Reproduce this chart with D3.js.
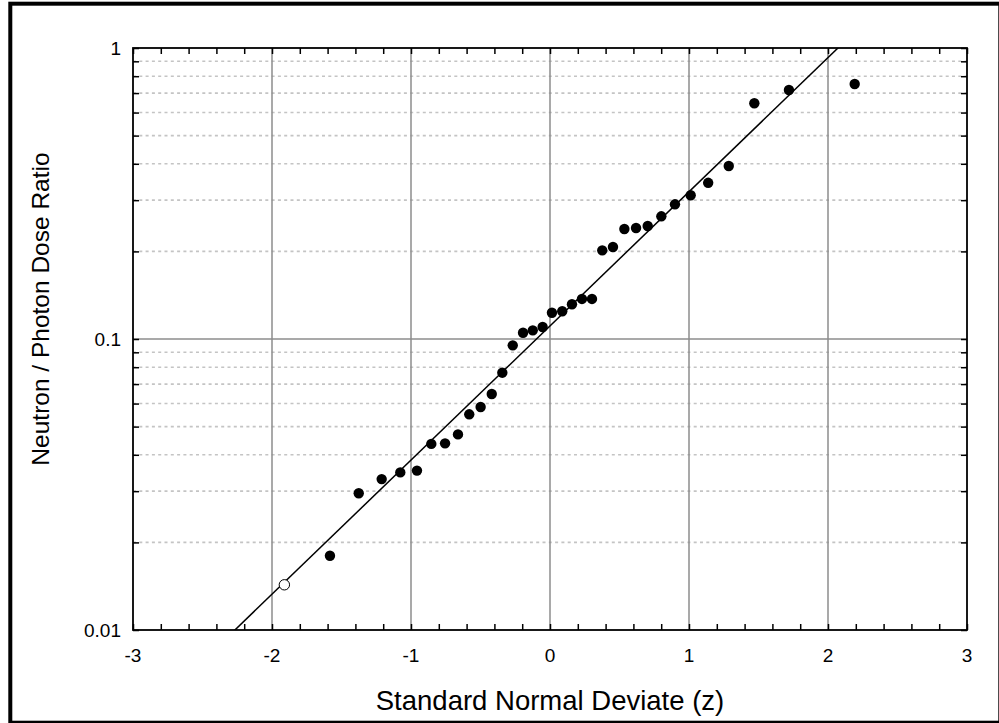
<!DOCTYPE html>
<html>
<head>
<meta charset="utf-8">
<script src="https://cdn.jsdelivr.net/npm/d3@7"></script>
<style>
  body { margin: 0; background: #fff; }
  svg { display: block; }
  .lbl { font-family: "Liberation Sans", Arial, sans-serif; font-size: 19px; fill: black; }
  .ttl { font-family: "Liberation Sans", Arial, sans-serif; fill: black; }
</style>
</head>
<body>
<svg id="probSVG" width="999" height="723"></svg>
<script>
// observed points: standard normal deviate vs neutron/photon dose ratio
const zValues = [-1.583, -1.376, -1.211, -1.077, -0.957, -0.854, -0.755, -0.662, -0.581, -0.499,
                 -0.419, -0.343, -0.268, -0.194, -0.124, -0.053, 0.014, 0.088, 0.158, 0.230,
                 0.302, 0.376, 0.453, 0.535, 0.619, 0.703, 0.801, 0.899, 1.012, 1.138,
                 1.286, 1.470, 1.719, 2.192];
const ratioValues = [0.0180, 0.0295, 0.0330, 0.0348, 0.0353, 0.0436, 0.0438, 0.0470, 0.0551, 0.0584,
                     0.0647, 0.0766, 0.0951, 0.1051, 0.1071, 0.1100, 0.1231, 0.1246, 0.1316, 0.1373,
                     0.1373, 0.2017, 0.2071, 0.2388, 0.2407, 0.2445, 0.2640, 0.2903, 0.3118, 0.3441,
                     0.3930, 0.6456, 0.7171, 0.7519];
// open (non-detect) point
const openZ = [-1.911];
const openRatio = [0.0143];

// fitted line: log10(ratio) = fitIntercept + fitSlope * z
const fitIntercept = -0.955;
const fitSlope = 0.461;

const xMajor = [-3, -2, -1, 0, 1, 2, 3];
const xMajorLabels = ["-3", "-2", "-1", "0", "1", "2", "3"];
const yMajor = [0.01, 0.1, 1];
const yMajorLabels = ["0.01", "0.1", "1"];

const xTitle = "Standard Normal Deviate (z)";
const yTitle = "Neutron / Photon Dose Ratio";

const svg = d3.select('#probSVG');
const margin = {top: 48, right: 32, bottom: 93, left: 133};
const innerWidth = 999 - margin.left - margin.right;
const innerHeight = 723 - margin.top - margin.bottom;

// outer frame
svg.append('rect')
    .attr("x", 10.3).attr("y", 3.7)
    .attr("width", 990).attr("height", 719)
    .attr("fill", "none")
    .attr("stroke", "black")
    .attr("stroke-width", 4);

const g = svg.append('g').attr('transform', `translate(${margin.left}, ${margin.top})`);

const xScale = d3.scaleLinear().domain([-3, 3]).range([0, innerWidth]);
const yScale = d3.scaleLog().domain([0.01, 1]).range([innerHeight, 0]);

const xMinor = d3.range(-30, 31, 2).map(d => d / 10).filter(d => !xMajor.includes(d));
const yMinor = [];
[0.01, 0.1].forEach(dec => {
    for (let k = 2; k <= 9; k++) yMinor.push(dec * k);
});

// minor y grid (dotted)
g.selectAll('.minorGrid')
    .data(yMinor)
    .enter()
    .append('line')
    .classed('minorGrid', true)
    .attr("x1", 0).attr("x2", innerWidth)
    .attr("y1", d => yScale(d)).attr("y2", d => yScale(d))
    .attr("stroke", "#c4c4c4")
    .attr("stroke-width", 1.6)
    .attr("stroke-dasharray", "3,3.3");

// major grid
g.selectAll('.xGrid')
    .data(xMajor.slice(1, -1))
    .enter()
    .append('line')
    .classed('xGrid', true)
    .attr("x1", d => xScale(d)).attr("x2", d => xScale(d))
    .attr("y1", 0).attr("y2", innerHeight)
    .attr("stroke", "#8c8c8c")
    .attr("stroke-width", 1.5);
g.selectAll('.yGrid')
    .data(yMajor.slice(1, -1))
    .enter()
    .append('line')
    .classed('yGrid', true)
    .attr("x1", 0).attr("x2", innerWidth)
    .attr("y1", d => yScale(d)).attr("y2", d => yScale(d))
    .attr("stroke", "#8c8c8c")
    .attr("stroke-width", 1.5);

// axes: inward ticks on all four sides, labels drawn separately
function styleAxis(sel) {
    sel.select('.domain').remove();
    sel.selectAll('text').remove();
    sel.selectAll('line').attr("stroke", "black").attr("stroke-width", 1.5);
}
const allX = xMinor.concat(xMajor);
const allY = yMinor.concat(yMajor);

g.append('g').attr('transform', `translate(0, ${innerHeight})`)
    .call(d3.axisBottom(xScale).tickValues(allX).tickSize(-6))
    .call(styleAxis);
g.append('g')
    .call(d3.axisTop(xScale).tickValues(allX).tickSize(-6))
    .call(styleAxis);
g.append('g')
    .call(d3.axisLeft(yScale).tickValues(allY).tickSize(-6))
    .call(styleAxis);
g.append('g').attr('transform', `translate(${innerWidth}, 0)`)
    .call(d3.axisRight(yScale).tickValues(allY).tickSize(-6))
    .call(styleAxis);

// tick labels
g.selectAll('.xLabel')
    .data(xMajor)
    .enter()
    .append('text')
    .attr("class", "lbl xLabel")
    .attr("x", d => xScale(d))
    .attr("y", innerHeight + 32)
    .attr("text-anchor", "middle")
    .text((d, i) => xMajorLabels[i]);
g.selectAll('.yLabel')
    .data(yMajor)
    .enter()
    .append('text')
    .attr("class", "lbl yLabel")
    .attr("x", -12)
    .attr("y", d => yScale(d))
    .attr("dy", "0.36em")
    .attr("text-anchor", "end")
    .text((d, i) => yMajorLabels[i]);

// clip for fit line
svg.append('defs').append('clipPath').attr('id', 'plotClip')
    .append('rect').attr('width', innerWidth).attr('height', innerHeight);

const fitLine = d3.line()
    .x(d => xScale(d))
    .y(d => yScale(Math.pow(10, fitIntercept + fitSlope * d)));
g.append('path')
    .datum([-3, 3])
    .attr("clip-path", "url(#plotClip)")
    .attr("d", fitLine)
    .attr("fill", "none")
    .attr("stroke", "black")
    .attr("stroke-width", 1.5);

// points
g.selectAll('.pt')
    .data(zValues.map((z, i) => [z, ratioValues[i]]))
    .enter()
    .append('circle')
    .classed('pt', true)
    .attr("cx", d => xScale(d[0]))
    .attr("cy", d => yScale(d[1]))
    .attr("r", 5.2)
    .attr("fill", "black");
g.selectAll('.openPt')
    .data(openZ.map((z, i) => [z, openRatio[i]]))
    .enter()
    .append('circle')
    .classed('openPt', true)
    .attr("cx", d => xScale(d[0]))
    .attr("cy", d => yScale(d[1]))
    .attr("r", 5.2)
    .attr("fill", "white")
    .attr("stroke", "black")
    .attr("stroke-width", 1);

// plot frame
g.append('rect')
    .attr("width", innerWidth).attr("height", innerHeight)
    .attr("fill", "none")
    .attr("stroke", "black")
    .attr("stroke-width", 1.8);

// titles
svg.append('text')
    .attr("class", "ttl")
    .attr("x", margin.left + innerWidth / 2)
    .attr("y", 710)
    .attr("text-anchor", "middle")
    .style("font-size", "27.5px")
    .text(xTitle);
svg.append('text')
    .attr("class", "ttl")
    .attr("transform", `translate(49, ${margin.top + innerHeight / 2 - 30}) rotate(-90)`)
    .attr("text-anchor", "middle")
    .style("font-size", "24.5px")
    .text(yTitle);
</script>
</body>
</html>
